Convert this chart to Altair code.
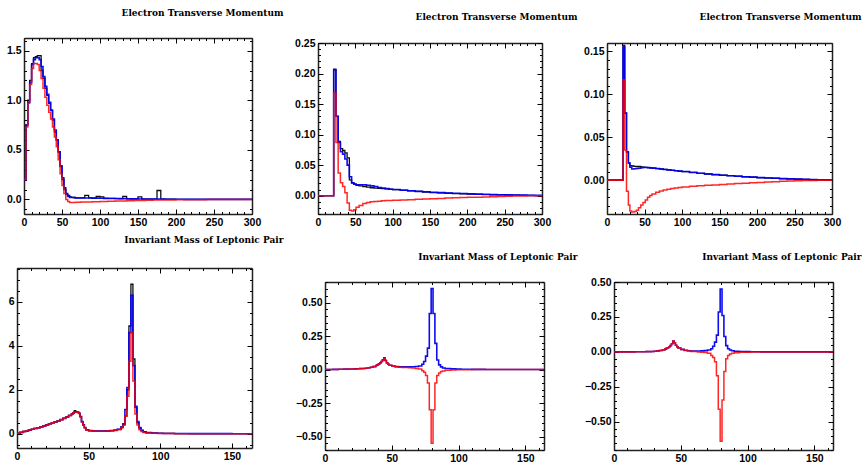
import altair as alt
import pandas as pd

W, H = 864, 463
TS_MAJ, TS_MIN = 5, 2.5
FRAME = "#222222"

# ---------------- data: top row (Electron Transverse Momentum) ----------------
p1_x = [0, 2.5, 5, 7.5, 10, 12.5, 15, 17.5, 20, 22.5, 25, 27.5, 30, 32.5, 35, 37.5,
        40, 42.5, 45, 47.5, 50, 52.5, 55, 57.5, 60, 62.5, 65, 67.5,
        70, 75, 80, 85, 90, 95, 100, 105, 110, 115, 120, 125, 130, 135, 140, 145,
        150, 155, 160, 165, 170, 175, 180, 185, 190, 195,
        200, 210, 220, 230, 240, 250, 260, 270, 280, 290]
p1_black = [0.20, 0.75, 1.00, 1.20, 1.37, 1.43, 1.44, 1.45, 1.45, 1.30, 1.22, 1.12, 1.05, 0.97,
            0.90, 0.80, 0.68, 0.60, 0.48, 0.33, 0.22, 0.12, 0.06, 0.04, 0.025, 0.02, 0.02, 0.015,
            0.015, 0.015, 0.04, 0.015, 0.012, 0.03, 0.025, 0.01, 0.01, 0.01, 0.008, 0.008, 0.03,
            0.006, 0.005, 0.005, 0.025, 0.004, 0.004, 0.003, 0.003, 0.09, 0.002, 0.002, 0.002, 0.002,
            0.001, 0.001, 0.001, 0, 0, 0, 0, 0, 0, 0]
p1_blue = [0.20, 0.75, 0.98, 1.18, 1.36, 1.41, 1.43, 1.43, 1.41, 1.34, 1.24, 1.14, 1.06, 0.98,
           0.90, 0.81, 0.70, 0.60, 0.48, 0.34, 0.20, 0.10, 0.05, 0.03, 0.02, 0.02, 0.018, 0.015,
           0.015, 0.015, 0.015, 0.014, 0.013, 0.013, 0.012, 0.011, 0.010, 0.010, 0.009, 0.008, 0.008,
           0.007, 0.006, 0.006, 0.005, 0.005, 0.004, 0.004, 0.003, 0.003, 0.003, 0.002, 0.002, 0.002,
           0.002, 0.001, 0.001, 0.001, 0.001, 0, 0, 0, 0, 0]
p1_red = [0.20, 0.73, 0.97, 1.16, 1.32, 1.37, 1.37, 1.36, 1.30, 1.22, 1.12, 1.03, 0.95, 0.88,
          0.81, 0.73, 0.63, 0.53, 0.40, 0.26, 0.14, 0.06, 0.00, -0.02, -0.03, -0.03, -0.03, -0.029,
          -0.028, -0.027, -0.026, -0.025, -0.024, -0.023, -0.021, -0.020, -0.019, -0.018, -0.017,
          -0.016, -0.015, -0.014, -0.013, -0.012, -0.011, -0.010, -0.009, -0.008, -0.007, -0.007,
          -0.006, -0.006, -0.005, -0.005,
          -0.004, -0.004, -0.003, -0.003, -0.002, -0.002, -0.001, -0.001, -0.001, 0.0]

p2_x = [0, 21, 24, 27, 30, 33, 36, 39, 42, 45, 48, 51, 55, 60, 65, 70, 75, 80, 85, 90, 95,
        100, 110, 120, 130, 140, 150, 160, 170, 180, 190, 200, 210, 220, 230,
        240, 250, 260, 270, 280, 290]
p2_black = [0, 0.207, 0.13, 0.089, 0.077, 0.074, 0.07, 0.062, 0.026, 0.021, 0.019, 0.017,
            0.016, 0.015, 0.014, 0.013, 0.0125, 0.012, 0.0115, 0.011, 0.0105,
            0.010, 0.009, 0.008, 0.007, 0.006, 0.005, 0.0045, 0.004, 0.0035, 0.003,
            0.0025, 0.002, 0.002, 0.0015, 0.0015, 0.001, 0.001, 0.0005, 0.0005, 0.0]
p2_blue = [0, 0.206, 0.13, 0.087, 0.072, 0.068, 0.06, 0.05, 0.031, 0.021, 0.019, 0.018,
           0.018, 0.018, 0.017, 0.016, 0.015, 0.0135, 0.0125, 0.0115, 0.0105,
           0.010, 0.009, 0.008, 0.007, 0.0065, 0.0055, 0.005, 0.0045, 0.004, 0.0035,
           0.003, 0.0025, 0.002, 0.002, 0.0015, 0.0015, 0.001, 0.001, 0.0005, 0.0005]
p2_red = [0, 0.168, 0.087, 0.037, 0.021, 0.015, 0.005, -0.012, -0.024, -0.025, -0.023, -0.019,
          -0.016, -0.013, -0.011, -0.010, -0.0095, -0.009, -0.0085, -0.008, -0.0078,
          -0.0075, -0.007, -0.0065, -0.006, -0.0055, -0.005, -0.0045, -0.004,
          -0.0035, -0.003, -0.0027, -0.0024, -0.002, -0.0017, -0.0014, -0.001, -0.0007, -0.0005,
          -0.0003, 0.0]

p3_x = [0, 21.4, 23.6, 26, 28.5, 30.5, 33, 36, 39, 42, 45, 48, 51, 54, 57, 60, 65, 70, 75,
        80, 85, 90, 95, 100, 110, 120, 130, 140, 150, 160, 170, 180, 190, 200, 210, 220, 230,
        240, 250, 260, 270, 280, 290]
p3_black = [0, 0.157, 0.078, 0.033, 0.02, 0.017, 0.0165, 0.016, 0.016, 0.016, 0.0155, 0.0152,
            0.015, 0.0147, 0.0143, 0.014, 0.0135, 0.013, 0.0125,
            0.012, 0.0115, 0.011, 0.0105, 0.010, 0.009, 0.008, 0.0072, 0.0065, 0.0058, 0.0052,
            0.0046, 0.004, 0.0035, 0.003, 0.0026, 0.0022, 0.0018, 0.0015, 0.0012, 0.0009, 0.0006,
            0.0004, 0.0002]
p3_blue = [0, 0.155, 0.078, 0.033, 0.02, 0.015, 0.013, 0.0133, 0.0137, 0.014, 0.0144, 0.0147,
           0.0148, 0.0146, 0.0143, 0.014, 0.0135, 0.013, 0.0125,
           0.012, 0.0115, 0.011, 0.0105, 0.010, 0.009, 0.008, 0.0072, 0.0065, 0.0058, 0.0052,
           0.0046, 0.004, 0.0035, 0.003, 0.0026, 0.0022, 0.0018, 0.0015, 0.0012, 0.0009, 0.0006,
           0.0004, 0.0002]
p3_red = [0, 0.117, 0.035, -0.013, -0.029, -0.036, -0.037, -0.0365, -0.035, -0.032, -0.029,
          -0.026, -0.023, -0.020, -0.018, -0.016, -0.014, -0.0125, -0.0115,
          -0.0105, -0.0098, -0.0092, -0.0086, -0.008, -0.0072, -0.0065, -0.006, -0.0055, -0.005,
          -0.0045, -0.004, -0.0035, -0.003, -0.0026, -0.0022, -0.0018, -0.0014, -0.001, -0.0008,
          -0.0005, -0.0003, -0.0002, 0.0]

# ---------------- data: bottom row (Invariant Mass of Leptonic Pair) ----------------
bot_x = [0, 2, 4, 6, 8, 10, 12, 14, 16, 18, 20, 22, 24, 26, 28, 30, 32, 34, 36, 38,
         39, 40, 41, 42, 43, 44, 45, 46, 47, 48,
         50, 52.5, 55, 57.5, 60, 62.5, 65, 67.5, 70, 72.5,
         73.9, 75.3, 76.7, 78.1, 79.5, 80.9, 82.3, 83.7, 85.1, 86.5,
         88, 90, 94, 98, 102, 110, 120, 130, 140, 150, 160]
p4_black = [0.02, 0.06, 0.10, 0.13, 0.17, 0.20, 0.24, 0.27, 0.31, 0.35, 0.40, 0.45, 0.50, 0.54,
            0.58, 0.64, 0.70, 0.76, 0.83, 0.90,
            0.95, 1.05, 1.00, 0.98, 0.93, 0.78, 0.55, 0.40, 0.28, 0.18,
            0.14, 0.13, 0.12, 0.12, 0.12, 0.13, 0.14, 0.16, 0.20, 0.30,
            0.42, 0.80, 2.00, 4.90, 6.80, 3.40, 1.20, 0.50, 0.25, 0.15,
            0.09, 0.05, 0.03, 0.02, 0.012, 0.008, 0.005, 0.003, 0.002, 0.001, 0.0]
p4_blue = [0.02, 0.06, 0.10, 0.13, 0.17, 0.20, 0.24, 0.27, 0.31, 0.35, 0.40, 0.45, 0.50, 0.54,
           0.58, 0.64, 0.70, 0.76, 0.83, 0.90,
           0.95, 1.00, 1.00, 0.98, 0.93, 0.78, 0.55, 0.40, 0.28, 0.18,
           0.14, 0.13, 0.12, 0.12, 0.12, 0.13, 0.14, 0.16, 0.20, 0.30,
           0.45, 1.10, 2.10, 4.60, 6.30, 3.10, 1.25, 0.55, 0.28, 0.15,
           0.09, 0.05, 0.03, 0.02, 0.012, 0.008, 0.005, 0.003, 0.002, 0.001, 0.0]
p4_red = [0.02, 0.06, 0.10, 0.13, 0.17, 0.20, 0.24, 0.27, 0.31, 0.35, 0.40, 0.45, 0.50, 0.54,
          0.58, 0.64, 0.70, 0.76, 0.83, 0.90,
          0.95, 0.98, 0.99, 0.97, 0.92, 0.76, 0.53, 0.38, 0.26, 0.17,
          0.13, 0.12, 0.11, 0.11, 0.11, 0.12, 0.13, 0.15, 0.18, 0.26,
          0.38, 0.80, 1.70, 3.30, 4.60, 2.40, 0.90, 0.40, 0.18, 0.10,
          0.06, 0.03, 0.02, 0.01, 0.006, 0.004, 0.002, 0.001, 0.0, 0.0, 0.0]
p5_blue = [0.0, 0.0, 0.0, 0.001, 0.001, 0.002, 0.002, 0.003, 0.003, 0.004, 0.004, 0.005, 0.006,
           0.007, 0.008, 0.010, 0.013, 0.017, 0.022, 0.030,
           0.035, 0.042, 0.050, 0.060, 0.072, 0.087, 0.068, 0.050, 0.040, 0.032,
           0.026, 0.022, 0.020, 0.020, 0.020, 0.020, 0.021, 0.023, 0.027, 0.040,
           0.060, 0.100, 0.160, 0.418, 0.604, 0.418, 0.195, 0.071, 0.035, 0.020,
           0.012, 0.008, 0.005, 0.003, 0.002, 0.001, 0.0, 0.0, 0.0, 0.0, 0.0]
p5_red = [0.0, 0.0, 0.0, 0.001, 0.001, 0.002, 0.002, 0.003, 0.003, 0.004, 0.004, 0.005, 0.006,
          0.007, 0.008, 0.010, 0.013, 0.017, 0.022, 0.030,
          0.035, 0.042, 0.050, 0.060, 0.072, 0.087, 0.068, 0.050, 0.040, 0.032,
          0.025, 0.020, 0.018, 0.016, 0.015, 0.013, 0.011, 0.008, 0.004, -0.008,
          -0.020, -0.045, -0.100, -0.300, -0.550, -0.300, -0.100, -0.045, -0.025, -0.015,
          -0.010, -0.006, -0.004, -0.002, -0.001, 0.0, 0.0, 0.0, 0.0, 0.0, 0.0]
p6_blue = [0.0, 0.0, 0.0, 0.0, 0.0, 0.0, 0.0, 0.0, 0.001, 0.001, 0.001, 0.001, 0.002, 0.002,
           0.003, 0.005, 0.007, 0.010, 0.014, 0.020,
           0.025, 0.030, 0.037, 0.045, 0.058, 0.078, 0.065, 0.048, 0.037, 0.028,
           0.018, 0.012, 0.008, 0.006, 0.006, 0.006, 0.007, 0.009, 0.013, 0.022,
           0.040, 0.070, 0.120, 0.285, 0.450, 0.260, 0.110, 0.045, 0.022, 0.013,
           0.008, 0.005, 0.003, 0.002, 0.001, 0.0, 0.0, 0.0, 0.0, 0.0, 0.0]
p6_red = [0.0, 0.0, 0.0, 0.0, 0.0, 0.0, 0.0, 0.0, 0.001, 0.001, 0.001, 0.001, 0.002, 0.002,
          0.003, 0.005, 0.007, 0.010, 0.014, 0.020,
          0.025, 0.030, 0.037, 0.045, 0.058, 0.078, 0.065, 0.048, 0.037, 0.028,
          0.017, 0.010, 0.006, 0.003, 0.002, 0.0, -0.002, -0.005, -0.010, -0.025,
          -0.040, -0.070, -0.170, -0.410, -0.640, -0.345, -0.140, -0.050, -0.025, -0.015,
          -0.010, -0.006, -0.003, -0.002, -0.001, 0.0, 0.0, 0.0, 0.0, 0.0, 0.0]

titles = ["Electron Transverse Momentum", "Invariant Mass of Leptonic Pair"]
top_xticks = [0, 50, 100, 150, 200, 250, 300]
bot_xticks = [0, 50, 100, 150]

SERIES_COLORS = {"black": "#000000", "blue": "#0000ee", "red": "#ff0000"}
SERIES_WIDTH = {"black": 1.3, "blue": 1.6, "red": 1.5}


def tick_list(start, step, lo, hi):
    out, i = [], 0
    while True:
        v = round(start + i * step, 6)
        if v > hi + 1e-9:
            break
        if v >= lo - 1e-9:
            out.append(v)
        i += 1
    return out


def series_df(x, ys, end):
    xs = list(x) + [end]
    yv = list(ys) + [ys[-1]]
    return pd.DataFrame({"x": xs, "y": yv})


LAB = dict(labelFont="Liberation Sans", labelFontSize=10.5, labelFontWeight="bold",
           labelColor="black", labelFlush=False, labelOverlap=False, labelBound=False,
           grid=False, title=None)


def panel(series, x, xend, ydom, box, xmaj, xmin_step, ymaj, ymin_step, yfmt,
          title, tx, ty):
    l, t, r, b = box
    sx = alt.Scale(domain=[0, xend], range=[l, r], nice=False, zero=False)
    sy = alt.Scale(domain=ydom, range=[b, t], nice=False, zero=False)
    xminor = tick_list(0, xmin_step, 0, xend)
    yminor = tick_list(-2.0, ymin_step, ydom[0], ydom[1])
    layers = []
    first = True
    for name, ys in series:
        df = series_df(x, ys, xend)
        if first:
            xa = alt.Axis(orient="bottom", offset=b - H, values=xmaj, format="d", ticks=False,
                          domain=True, domainColor=FRAME, domainWidth=1.5, labelPadding=3, **LAB)
            ya = alt.Axis(orient="left", offset=-l, values=ymaj, format=yfmt, ticks=False,
                          domain=True, domainColor=FRAME, domainWidth=1.5, labelPadding=3, **LAB)
        else:
            xa = None
            ya = None
        layers.append(
            alt.Chart(df).mark_line(interpolate="step-after", strokeWidth=SERIES_WIDTH[name],
                                    color=SERIES_COLORS[name],
                                    opacity=0.85 if name == "red" else 0.95)
            .encode(x=alt.X("x:Q", scale=sx, axis=xa), y=alt.Y("y:Q", scale=sy, axis=ya))
        )
        first = False
    base_df = series_df(x, series[0][1], xend)

    def ghost(xa, ya):
        return alt.Chart(base_df).mark_line(opacity=0).encode(
            x=alt.X("x:Q", scale=sx, axis=xa), y=alt.Y("y:Q", scale=sy, axis=ya))

    noline = dict(labels=False, domain=False, ticks=True, tickColor="black", tickWidth=1,
                  grid=False, title=None)
    layers.append(ghost(
        alt.Axis(orient="top", offset=-t, ticks=False, labels=False, domain=True,
                 domainColor=FRAME, domainWidth=1.5, grid=False, title=title,
                 titleX=tx, titleY=ty - t, titleAlign="right", titleBaseline="middle",
                 titleAngle=0, titleFont="DejaVu Serif", titleFontSize=9,
                 titleFontWeight="bold", titleColor="black", titlePadding=0),
        alt.Axis(orient="right", offset=r - W, ticks=False, labels=False, domain=True,
                 domainColor=FRAME, domainWidth=1.5, grid=False, title=None)))
    layers.append(ghost(
        alt.Axis(orient="bottom", offset=b - H - TS_MAJ, values=xmaj, tickSize=TS_MAJ, **noline),
        alt.Axis(orient="left", offset=-(l + TS_MAJ), values=ymaj, tickSize=TS_MAJ, **noline)))
    layers.append(ghost(
        alt.Axis(orient="bottom", offset=b - H - TS_MIN, values=xminor, tickSize=TS_MIN, **noline),
        alt.Axis(orient="left", offset=-(l + TS_MIN), values=yminor, tickSize=TS_MIN, **noline)))
    layers.append(ghost(
        alt.Axis(orient="top", offset=-(t + TS_MAJ), values=xmaj, tickSize=TS_MAJ, **noline),
        alt.Axis(orient="right", offset=r - W - TS_MAJ, values=ymaj, tickSize=TS_MAJ, **noline)))
    layers.append(ghost(
        alt.Axis(orient="top", offset=-(t + TS_MIN), values=xminor, tickSize=TS_MIN, **noline),
        alt.Axis(orient="right", offset=r - W - TS_MIN, values=yminor, tickSize=TS_MIN, **noline)))
    return layers


all_layers = []
all_layers += panel([("black", p1_black), ("blue", p1_blue), ("red", p1_red)], p1_x, 300,
                    [-0.147, 1.628], (24, 38, 252, 214), top_xticks, 10,
                    [0, 0.5, 1.0, 1.5], 0.1, ".1f", titles[0], 283, 12)
all_layers += panel([("black", p2_black), ("blue", p2_blue), ("red", p2_red)], p2_x, 300,
                    [-0.03, 0.25], (318, 43, 542, 214), top_xticks, 10,
                    [0, 0.05, 0.10, 0.15, 0.20, 0.25], 0.01, ".2f", titles[0], 577, 16)
all_layers += panel([("black", p3_black), ("blue", p3_blue), ("red", p3_red)], p3_x, 300,
                    [-0.0394, 0.1597], (607, 43, 832, 214), top_xticks, 10,
                    [0, 0.05, 0.10, 0.15], 0.01, ".2f", titles[0], 861, 16)
all_layers += panel([("black", p4_black), ("blue", p4_blue), ("red", p4_red)], bot_x, 164,
                    [-0.65, 7.54], (17, 268, 252, 448), bot_xticks, 10,
                    [0, 2, 4, 6], 0.5, "d", titles[1], 283, 239)
all_layers += panel([("blue", p5_blue), ("red", p5_red)], bot_x, 164,
                    [-0.6, 0.653], (325, 282, 544, 450), bot_xticks, 10,
                    [-0.5, -0.25, 0, 0.25, 0.5], 0.05, ".2f", titles[1], 577, 256)
all_layers += panel([("blue", p6_blue), ("red", p6_red)], bot_x, 164,
                    [-0.702, 0.5], (614, 282, 833, 450), bot_xticks, 10,
                    [-0.5, -0.25, 0, 0.25, 0.5], 0.05, ".2f", titles[1], 861, 256)

chart = (
    alt.layer(*all_layers)
    .resolve_scale(x="independent", y="independent")
    .resolve_axis(x="independent", y="independent")
    .properties(width=W, height=H, autosize=alt.AutoSizeParams(type="none"), padding=0,
                background="white")
    .configure_view(stroke=None)
    .configure_axis(grid=False)
)

chart.save("out.html", embed_options={"renderer": "svg", "actions": False})
